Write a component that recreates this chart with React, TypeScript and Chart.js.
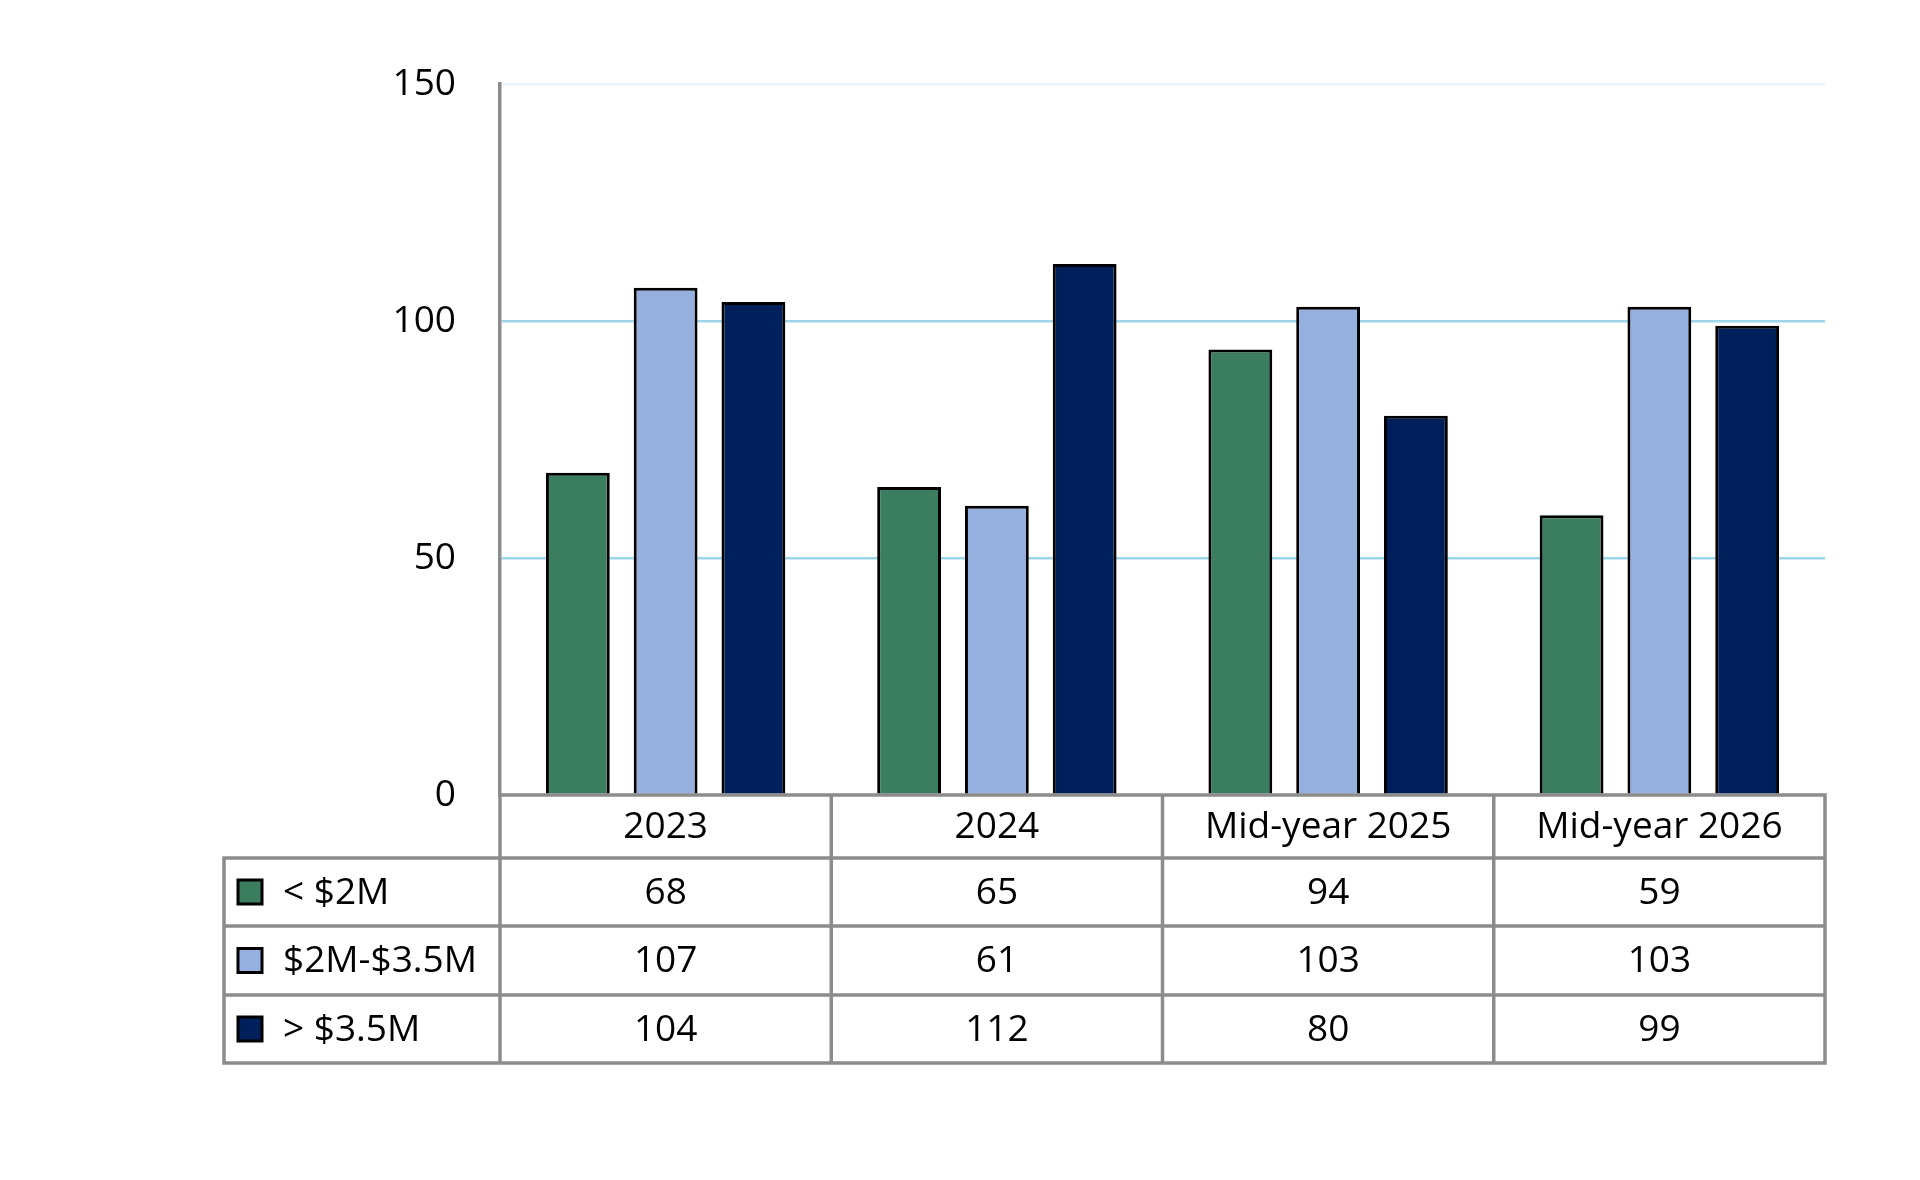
import { useEffect, useRef } from "react";
import { Chart, registerables } from "chart.js";

Chart.register(...registerables);

const categories = ["2023", "2024", "Mid-year 2025", "Mid-year 2026"];
const seriesNames = ["< $2M", "$2M-$3.5M", "> $3.5M"];
const under2M = [68, 65, 94, 59];
const between2And35M = [107, 61, 103, 103];
const over35M = [104, 112, 80, 99];
const yTicks = [0, 50, 100, 150];

const colors = ["#3A7D5F", "#95B0DE", "#00205B"];
const FONT = "'Open Sans', 'Noto Sans', sans-serif";
const GRID_GREY = "#8C8C8C";

// table under the plot, drawn from the x scale so columns line up with bars
const dataTable = {
  id: "dataTable",
  afterDraw(chart: Chart) {
    const { ctx, chartArea } = chart;
    const x = chart.scales.x;
    const n = categories.length;
    const colW = (chartArea.right - chartArea.left) / n;
    const top = chartArea.bottom;
    const rows = [top, top + 63, top + 131, top + 200, top + 268];
    const legendLeft = 224;
    const values = [under2M, between2And35M, over35M];

    ctx.save();
    ctx.strokeStyle = GRID_GREY;
    ctx.lineWidth = 3.5;
    ctx.lineCap = "square";
    ctx.beginPath();
    // horizontal lines
    ctx.moveTo(chartArea.left, rows[0]);
    ctx.lineTo(chartArea.right, rows[0]);
    for (let r = 1; r < rows.length; r++) {
      ctx.moveTo(legendLeft, rows[r]);
      ctx.lineTo(chartArea.right, rows[r]);
    }
    // vertical lines
    for (let i = 0; i <= n; i++) {
      const px = chartArea.left + i * colW;
      ctx.moveTo(px, rows[0]);
      ctx.lineTo(px, rows[rows.length - 1]);
    }
    ctx.moveTo(legendLeft, rows[1]);
    ctx.lineTo(legendLeft, rows[rows.length - 1]);
    ctx.stroke();

    ctx.fillStyle = "#000";
    ctx.font = `37px ${FONT}`;
    ctx.textAlign = "center";
    ctx.textBaseline = "middle";
    categories.forEach((c, i) => {
      const cx = x.getPixelForTick(i);
      ctx.fillText(c, cx, (rows[0] + rows[1]) / 2 + 1);
      values.forEach((vals, s) => {
        ctx.fillText(String(vals[i]), cx, (rows[s + 1] + rows[s + 2]) / 2 + 1);
      });
    });

    // legend keys
    seriesNames.forEach((name, s) => {
      const cy = (rows[s + 1] + rows[s + 2]) / 2;
      ctx.fillStyle = colors[s];
      ctx.fillRect(238, cy - 12, 24, 24);
      ctx.strokeStyle = "#000";
      ctx.lineWidth = 3;
      ctx.strokeRect(238, cy - 12, 24, 24);
      ctx.fillStyle = "#000";
      ctx.textAlign = "left";
      ctx.fillText(name, 283, cy + 1);
    });
    ctx.restore();
  },
};

export default function App() {
  const canvasRef = useRef<HTMLCanvasElement>(null);

  useEffect(() => {
    document.body.style.margin = "0";
    if (!canvasRef.current) return;

    const chart = new Chart(canvasRef.current, {
      type: "bar",
      data: {
        labels: categories,
        datasets: [under2M, between2And35M, over35M].map((d, i) => ({
          label: seriesNames[i],
          data: d,
          backgroundColor: colors[i],
          borderColor: "#000",
          borderWidth: 3,
          categoryPercentage: 0.795,
          barPercentage: 0.727,
        })),
      },
      options: {
        responsive: false,
        devicePixelRatio: 1,
        animation: false,
        layout: { padding: { top: 84, right: 95, bottom: 385, left: 0 } },
        plugins: {
          legend: { display: false },
          tooltip: { enabled: false },
        },
        scales: {
          x: { display: false },
          y: {
            min: 0,
            max: 150,
            afterBuildTicks: (scale) => {
              scale.ticks = yTicks.map((v) => ({ value: v }));
            },
            afterFit: (scale) => {
              scale.width = 500;
            },
            border: { display: true, color: GRID_GREY, width: 3.5 },
            grid: {
              drawTicks: false,
              lineWidth: 2.5,
              color: (c) =>
                c.tick.value === 0 ? "rgba(0,0,0,0)" : c.tick.value === 150 ? "#EDF5FA" : "#9DD5EA",
            },
            ticks: {
              padding: 44,
              color: "#000",
              font: { family: FONT, size: 37 },
            },
          },
        },
      },
      plugins: [dataTable],
    });

    return () => chart.destroy();
  }, []);

  return <canvas ref={canvasRef} width={1920} height={1180} />;
}
